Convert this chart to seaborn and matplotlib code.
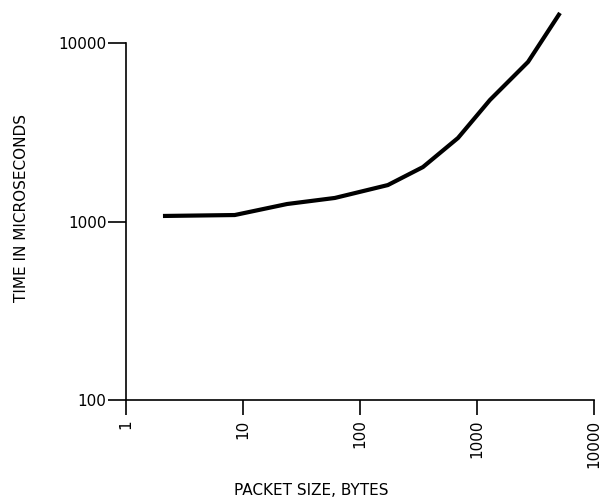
import matplotlib
matplotlib.use("Agg")
import matplotlib.pyplot as plt
import seaborn as sns
import pandas as pd
from matplotlib.ticker import FixedLocator, FixedFormatter, NullLocator

# Data
packet_size = [2.07, 8.5, 23.8, 61, 173, 345, 688, 1290, 2730, 5120]
time_us = [1074, 1087, 1253, 1355, 1600, 2018, 2937, 4795, 7833, 14730]

x_ticks = [1, 10, 100, 1000, 10000]
x_tick_labels = ["1", "10", "100", "1000", "10000"]
y_ticks = [100, 1000, 10000]
y_tick_labels = ["100", "1000", "10000"]

sns.set_style("ticks")
plt.rcParams["font.family"] = ["DejaVu Sans"]

df = pd.DataFrame({"size": packet_size, "time": time_us})

fig = plt.figure(figsize=(6.01, 4.99), dpi=100)
ax = fig.add_axes([126 / 601, 1 - 400 / 499, 468 / 601, 357 / 499])

sns.lineplot(data=df, x="size", y="time", color="black", linewidth=3.0,
             ax=ax, clip_on=False, solid_joinstyle="round", solid_capstyle="butt")

ax.set_xscale("log")
ax.set_yscale("log")
ax.set_xlim(1, 10000)
ax.set_ylim(100, 10000)

ax.xaxis.set_major_locator(FixedLocator(x_ticks))
ax.xaxis.set_major_formatter(FixedFormatter(x_tick_labels))
ax.yaxis.set_major_locator(FixedLocator(y_ticks))
ax.yaxis.set_major_formatter(FixedFormatter(y_tick_labels))
ax.xaxis.set_minor_locator(NullLocator())
ax.yaxis.set_minor_locator(NullLocator())

ax.tick_params(axis="x", direction="out", length=11, width=1.2, pad=3,
               labelsize=11, labelrotation=90, colors="black")
ax.tick_params(axis="y", direction="out", length=13, width=1.2, pad=1,
               labelsize=11, colors="black")

for side in ["top", "right"]:
    ax.spines[side].set_visible(False)
for side in ["left", "bottom"]:
    ax.spines[side].set_linewidth(1.2)
    ax.spines[side].set_color("black")

ax.set_xlabel("PACKET SIZE, BYTES", fontsize=11, color="black")
ax.set_ylabel("TIME IN MICROSECONDS", fontsize=11, color="black")
ax.xaxis.set_label_coords(0.395, -0.232)
ax.yaxis.set_label_coords(-0.208, 0.538)

fig.savefig("out.png", dpi=100, facecolor="white")
